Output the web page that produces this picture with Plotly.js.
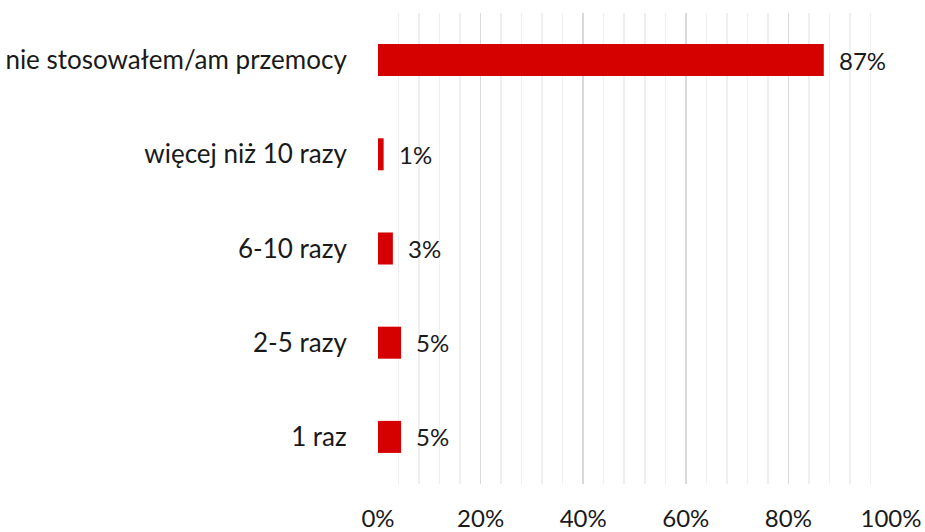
<!DOCTYPE html>
<html>
<head>
<meta charset="utf-8">
<script src="https://cdn.plot.ly/plotly-3.0.1.min.js"></script>
<style>html,body{margin:0;padding:0;background:#fff;}#chart{width:925px;height:532px;}</style>
</head>
<body>
<div id="chart"></div>
<script>
const categories = ["nie stosowałem/am przemocy", "więcej niż 10 razy", "6-10 razy", "2-5 razy", "1 raz"];
const values = [86.9, 1.1, 2.9, 4.5, 4.5];
const valueLabels = ["87%", "1%", "3%", "5%", "5%"];
const tickVals = [0, 20, 40, 60, 80, 100];
const tickLabels = ["0%", "20%", "40%", "60%", "80%", "100%"];

const FONT = "Lato, 'Open Sans', sans-serif";

const trace = {
  type: "bar",
  orientation: "h",
  y: categories,
  x: values,
  marker: {color: "#D50000"},
  hoverinfo: "skip"
};

const annotations = categories.map((c, i) => ({
  x: values[i], y: c, xref: "x", yref: "y",
  text: valueLabels[i], showarrow: false,
  xanchor: "left", yanchor: "middle", xshift: 13,
  font: {family: FONT, size: 24, color: "#1a1a1a"}
}));

const layout = {
  width: 925, height: 532,
  margin: {l: 378, r: 34, t: 13, b: 48},
  paper_bgcolor: "#fff", plot_bgcolor: "#fff",
  showlegend: false,
  bargap: 0.66,
  font: {family: FONT, color: "#1a1a1a"},
  xaxis: {
    range: [0, 100], fixedrange: true,
    tickvals: tickVals, ticktext: tickLabels,
    showgrid: true, gridcolor: "#d9d9d9", gridwidth: 1.5,
    minor: {dtick: 4, showgrid: true, gridcolor: "#efefef", gridwidth: 1.5},
    zeroline: false, showline: false,
    ticks: "outside", ticklen: 13, tickcolor: "rgba(0,0,0,0)",
    tickfont: {family: FONT, size: 24, color: "#1a1a1a"}
  },
  yaxis: {
    autorange: "reversed", type: "category", fixedrange: true,
    showgrid: false, zeroline: false, showline: false,
    ticks: "outside", ticklen: 25, tickcolor: "rgba(0,0,0,0)",
    tickfont: {family: FONT, size: 26, color: "#1a1a1a"}
  },
  annotations: annotations
};

Plotly.newPlot("chart", [trace], layout, {displayModeBar: false, staticPlot: true});
</script>
</body>
</html>
